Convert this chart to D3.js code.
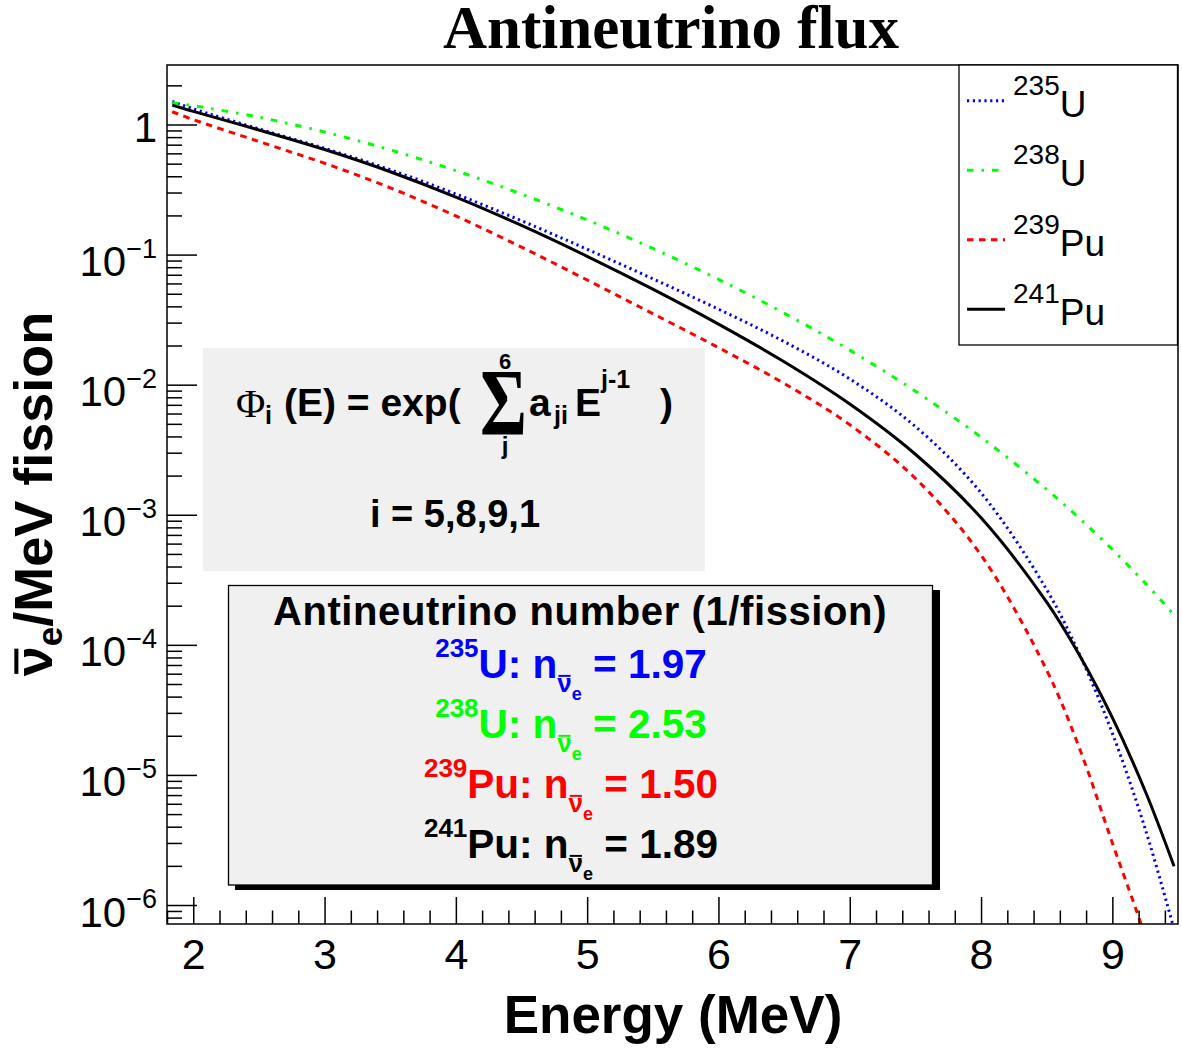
<!DOCTYPE html>
<html>
<head>
<meta charset="utf-8">
<script src="https://cdn.jsdelivr.net/npm/d3@7"></script>
<style>
  html, body { margin: 0; padding: 0; background: #fff; }
  svg { display: block; }
</style>
</head>
<body>
<svg id="chart" width="1182" height="1050"></svg>
<script>
// ---------------- data ----------------
const energy   = [1.84, 2, 2.5, 3, 3.5, 4, 4.5, 5, 5.5, 6, 6.5, 7, 7.5, 8, 8.5, 8.75, 9, 9.25, 9.47];
const fluxU235  = [1.503, 1.321, 0.9257, 0.6558, 0.4488, 0.2923, 0.1820, 0.1099, 0.06517, 0.03805, 0.02144, 0.01107, 0.004764, 0.001474, 2.654e-4, 8.44e-5, 2.093e-5, 3.857e-6, 6.52e-7];
const fluxU238  = [1.468, 1.394, 1.1385, 0.8761, 0.6380, 0.4417, 0.2918, 0.1845, 0.1116, 0.06455, 0.03551, 0.01843, 0.008909, 0.003945, 0.0015647, 9.374e-4, 5.403e-4, 2.982e-4, 1.699e-4];
const fluxPu239 = [1.2533, 1.0901, 0.7400, 0.5035, 0.3260, 0.1981, 0.1141, 0.06374, 0.03517, 0.01927, 0.010225, 0.004922, 0.001903, 4.892e-4, 6.376e-5, 1.598e-5, 3.0e-6, 5.7e-7, 1.0e-7];
const fluxPu241 = [1.4078, 1.2615, 0.9077, 0.6419, 0.4335, 0.2768, 0.1676, 0.09705, 0.05420, 0.02921, 0.01500, 0.007102, 0.002918, 9.473e-4, 2.126e-4, 8.307e-5, 2.755e-5, 7.517e-6, 1.985e-6];

const isotopeMass   = ["235", "238", "239", "241"];
const isotopeSymbol = ["U", "U", "Pu", "Pu"];
const nuPerFission  = ["1.97", "2.53", "1.50", "1.89"];
const xTickValues   = [2, 3, 4, 5, 6, 7, 8, 9];
const yTickExponents = [0, -1, -2, -3, -4, -5, -6];
const xDomain = [1.8, 9.5];
const yDomain = [7.145e-7, 2.867];

// ---------------- styles ----------------
const SANS  = "'Liberation Sans', Arial, Helvetica, sans-serif";
const SERIF = "'Liberation Serif', 'Times New Roman', serif";
const colors = ["#0000ff", "#00ff00", "#ff0000", "#000000"];
const dashes = ["2.2,3.6", "6.5,8,2.5,8", "6.5,5.5", null];
const widths = [3, 3, 3, 3];

const svg = d3.select("#chart");
const M = { left: 167, right: 1178, top: 65, bottom: 924 };

const x = d3.scaleLinear().domain(xDomain).range([M.left, M.right]);
const y = d3.scaleLog().domain(yDomain).range([M.bottom, M.top]);

svg.append("rect").attr("width", 1182).attr("height", 1050).attr("fill", "#fff");

// rich text helper: sequential segments with sizes / baseline offsets
function rich(parent, segs, o) {
  const outer = parent.append("g")
    .attr("transform", `translate(${o.x},${o.y})` + (o.rotate ? ` rotate(${o.rotate})` : ""));
  const g = outer.append("g");
  let cx = 0;
  for (const s of segs) {
    const fill = s.fill || o.fill || "#000";
    const t = g.append("text")
      .attr("x", cx).attr("y", s.dy || 0)
      .attr("font-family", s.family || o.family || SANS)
      .attr("font-size", s.size)
      .attr("font-weight", s.weight || o.weight || "normal")
      .attr("fill", fill)
      .text(s.t);
    if (o.spacing) t.attr("letter-spacing", o.spacing);
    const w = t.node().getComputedTextLength();
    if (s.overline) {
      const oy = (s.dy || 0) - s.size * (s.olPos || 0.72);
      g.append("line")
        .attr("x1", cx + w * 0.08).attr("x2", cx + w * 0.92)
        .attr("y1", oy).attr("y2", oy)
        .attr("stroke", fill).attr("stroke-width", Math.max(1.5, s.size * 0.075));
    }
    cx += w + (s.gap || 0);
  }
  const shift = o.anchor === "middle" ? -cx / 2 : o.anchor === "end" ? -cx : 0;
  g.attr("transform", `translate(${shift},0)`);
  return outer;
}

// ---------------- curves ----------------
svg.append("defs").append("clipPath").attr("id", "plotClip")
  .append("rect").attr("x", M.left).attr("y", M.top)
  .attr("width", M.right - M.left).attr("height", M.bottom - M.top);

const series = [fluxU235, fluxU238, fluxPu239, fluxPu241];
const line = d3.line()
  .x(d => x(d.e)).y(d => y(d.v))
  .curve(d3.curveCatmullRom.alpha(0.5));

const curves = svg.append("g").attr("clip-path", "url(#plotClip)");
series.forEach((vals, i) => {
  const pts = energy.map((e, k) => ({ e, v: vals[k] }));
  curves.append("path")
    .attr("d", line(pts))
    .attr("fill", "none")
    .attr("stroke", colors[i])
    .attr("stroke-width", widths[i])
    .attr("stroke-dasharray", dashes[i])
    .attr("stroke-linecap", "butt");
});

// ---------------- axes ----------------
const xMinor = d3.range(1.8, 9.51, 0.2).map(v => +v.toFixed(1)).filter(v => !xTickValues.includes(v));
const xAxisMajor = d3.axisBottom(x).tickValues(xTickValues).tickSizeInner(-27).tickSizeOuter(0)
  .tickPadding(14).tickFormat(d3.format("d"));
const xAxisMinor = d3.axisBottom(x).tickValues(xMinor).tickSizeInner(-13.5).tickSizeOuter(0).tickFormat("");

const gxMinor = svg.append("g").attr("transform", `translate(0,${M.bottom})`).call(xAxisMinor);
const gx = svg.append("g").attr("transform", `translate(0,${M.bottom})`).call(xAxisMajor);
[gx, gxMinor].forEach(g => {
  g.select(".domain").remove();
  g.selectAll(".tick line").attr("stroke", "#000").attr("stroke-width", 1.5);
});
gx.selectAll(".tick text")
  .attr("font-family", SANS).attr("font-size", 43).attr("fill", "#000");

const yMinor = [];
for (let k = -7; k <= 0; k++) {
  for (let m = 2; m <= 9; m++) {
    const v = m * Math.pow(10, k);
    if (v >= yDomain[0] && v <= yDomain[1]) yMinor.push(v);
  }
}
const yMajorVals = yTickExponents.map(e => Math.pow(10, e));
const yAxisMajor = d3.axisLeft(y).tickValues(yMajorVals).tickSizeInner(-30).tickSizeOuter(0).tickFormat("");
const yAxisMinor = d3.axisLeft(y).tickValues(yMinor).tickSizeInner(-15).tickSizeOuter(0).tickFormat("");
const gyMinor = svg.append("g").attr("transform", `translate(${M.left},0)`).call(yAxisMinor);
const gy = svg.append("g").attr("transform", `translate(${M.left},0)`).call(yAxisMajor);
[gy, gyMinor].forEach(g => {
  g.select(".domain").remove();
  g.selectAll(".tick line").attr("stroke", "#000").attr("stroke-width", 1.5);
});

// y tick labels (10^n)
yTickExponents.forEach(e => {
  const ty = y(Math.pow(10, e));
  if (e === 0) {
    rich(svg, [{ t: "1", size: 42 }], { x: 157, y: ty + 17.5, anchor: "end" });
  } else {
    rich(svg, [
      { t: "10", size: 42 },
      { t: "\u2212" + (-e), size: 27, dy: -18.5 }
    ], { x: 157, y: ty + 21.5, anchor: "end" });
  }
});

// frame
svg.append("rect")
  .attr("x", M.left).attr("y", M.top)
  .attr("width", M.right - M.left).attr("height", M.bottom - M.top)
  .attr("fill", "none").attr("stroke", "#000").attr("stroke-width", 1.5);

// ---------------- titles ----------------
svg.append("text")
  .attr("x", 671).attr("y", 48)
  .attr("text-anchor", "middle")
  .attr("font-family", SERIF).attr("font-weight", "bold").attr("font-size", 61)
  .text("Antineutrino flux");

svg.append("text")
  .attr("x", 673).attr("y", 1033)
  .attr("text-anchor", "middle")
  .attr("font-family", SANS).attr("font-weight", "bold").attr("font-size", 53)
  .text("Energy (MeV)");

rich(svg, [
  { t: "\u03BD", size: 54, overline: true, olPos: 0.66 },
  { t: "e", size: 35, dy: 10 },
  { t: "/MeV fission", size: 54 }
], { x: 52, y: 494, rotate: -90, anchor: "middle", weight: "bold" });

// ---------------- legend ----------------
const legend = svg.append("g");
legend.append("rect")
  .attr("x", 959).attr("y", 65).attr("width", 218.5).attr("height", 280)
  .attr("fill", "#fff").attr("stroke", "#000").attr("stroke-width", 1.3);
const legendRowY = [100.7, 170.2, 239.7, 309.2];
series.forEach((_, i) => {
  const ly = legendRowY[i];
  legend.append("line")
    .attr("x1", 967).attr("x2", 1005).attr("y1", ly).attr("y2", ly)
    .attr("stroke", colors[i]).attr("stroke-width", widths[i])
    .attr("stroke-dasharray", dashes[i]);
  rich(legend, [
    { t: isotopeMass[i], size: 28, dy: -22 },
    { t: isotopeSymbol[i], size: 37 }
  ], { x: 1013, y: ly + 16.2 });
});

// ---------------- formula box ----------------
const fbox = svg.append("g");
fbox.append("rect").attr("x", 203).attr("y", 348).attr("width", 502).attr("height", 223).attr("fill", "#f0f0f0");
const bold = (sel) => sel.attr("font-family", SANS).attr("font-weight", "bold").attr("fill", "#000");
fbox.append("text").attr("x", 236).attr("y", 417).attr("font-family", SERIF).attr("font-size", 40).text("\u03A6");
bold(fbox.append("text").attr("x", 265).attr("y", 424).attr("font-size", 25).text("i"));
bold(fbox.append("text").attr("x", 284).attr("y", 416).attr("font-size", 39).style("white-space", "pre").text("(E) = exp("));
fbox.append("text")
  .attr("transform", "translate(480,435) scale(0.78,1.03)")
  .attr("font-family", SERIF).attr("font-weight", "bold").attr("font-size", 92).text("\u03A3");
bold(fbox.append("text").attr("x", 505).attr("y", 369).attr("text-anchor", "middle").attr("font-size", 22).text("6"));
bold(fbox.append("text").attr("x", 505).attr("y", 454).attr("text-anchor", "middle").attr("font-size", 24).text("j"));
bold(fbox.append("text").attr("x", 529).attr("y", 416).attr("font-size", 39).text("a"));
bold(fbox.append("text").attr("x", 554).attr("y", 424).attr("font-size", 25).text("ji"));
bold(fbox.append("text").attr("x", 575).attr("y", 416).attr("font-size", 39).text("E"));
bold(fbox.append("text").attr("x", 601).attr("y", 388).attr("font-size", 25).text("j-1"));
bold(fbox.append("text").attr("x", 660).attr("y", 416).attr("font-size", 39).text(")"));
bold(fbox.append("text").attr("x", 455).attr("y", 527).attr("text-anchor", "middle").attr("font-size", 38).text("i = 5,8,9,1"));

// ---------------- antineutrino number box ----------------
const nbox = svg.append("g");
nbox.append("rect").attr("x", 235).attr("y", 590).attr("width", 705).attr("height", 300).attr("fill", "#000");
nbox.append("rect").attr("x", 228.5).attr("y", 585.5).attr("width", 704).attr("height", 299.5)
  .attr("fill", "#f0f0f0").attr("stroke", "#000").attr("stroke-width", 1.3);
rich(nbox, [{ t: "Antineutrino number (1/fission)", size: 40 }],
  { x: 580, y: 625, anchor: "middle", weight: "bold", spacing: 0.6 });
const nRowY = [678, 738, 798, 858];
series.forEach((_, i) => {
  rich(nbox, [
    { t: isotopeMass[i], size: 26, dy: -21 },
    { t: isotopeSymbol[i] + ":\u00A0n", size: 40.5 },
    { t: "\u03BD", size: 26, dy: 14, overline: true, olPos: 0.62 },
    { t: "e", size: 18, dy: 22 },
    { t: "\u00A0=\u00A0" + nuPerFission[i], size: 40.5 }
  ], { x: 571, y: nRowY[i], anchor: "middle", weight: "bold", fill: colors[i] });
});
</script>
</body>
</html>
